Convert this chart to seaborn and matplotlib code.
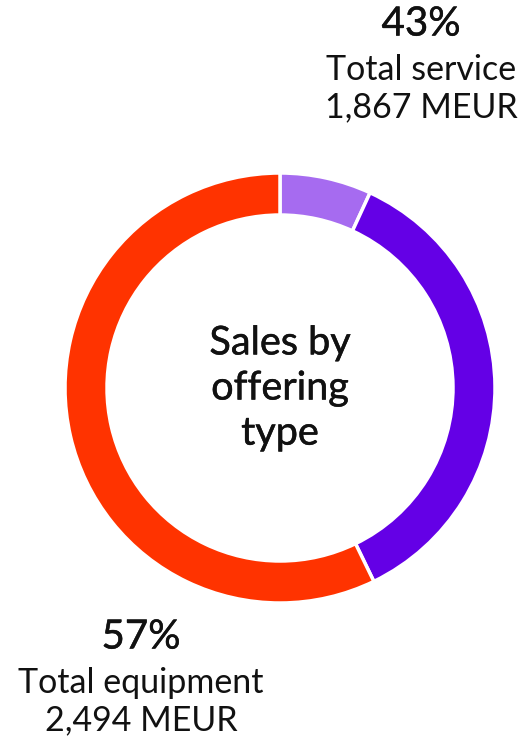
import matplotlib
matplotlib.use("Agg")
import matplotlib.pyplot as plt
import matplotlib.patheffects as pe
import seaborn as sns

# Ventas por tipo de oferta (MEUR)
segments = ["Service (light)", "Service (dark)", "Equipment"]
values = [300, 1567, 2494]
colors = ["#A66BF0", "#6400E6", "#FF3300"]

group_pct = ["43%", "57%"]
group_names = ["Total service", "Total equipment"]
group_meur = ["1,867 MEUR", "2,494 MEUR"]
center_label = "Sales by\noffering\ntype"

sns.set_theme(style="white")
plt.rcParams["font.family"] = ["Lato", "DejaVu Sans"]

W, H = 518, 738
fig = plt.figure(figsize=(W / 100, H / 100), dpi=100)
fig.patch.set_facecolor("white")

# un poco mas de grosor (peso "medium")
medium = [pe.withStroke(linewidth=0.35, foreground="#111111")]

# Donut: centro (280, 388) px, radio 215 px
cx, cy, r = 280, 388, 215
ax = fig.add_axes([(cx - r) / W, (H - cy - r) / H, 2 * r / W, 2 * r / H])
ax.pie(values, colors=colors, startangle=90, counterclock=False,
       radius=1.0,
       wedgeprops=dict(width=42 / r, edgecolor="white", linewidth=2.5))
ax.set_xlim(-1.0, 1.0)
ax.set_ylim(-1.0, 1.0)
ax.set_aspect("equal")
ax.axis("off")

ax.text(0, 0.0, center_label, ha="center", va="center", fontsize=28.5,
        color="#111111", linespacing=1.27, path_effects=medium)

# Etiquetas de los grupos
def label(x, y_top, pct, name, meur):
    fig.text(x / W, 1 - y_top / H, pct, ha="center", va="center",
             fontsize=29, color="#111111", path_effects=medium)
    fig.text(x / W, 1 - (y_top + 46) / H, name, ha="center", va="center",
             fontsize=24.5, color="#111111")
    fig.text(x / W, 1 - (y_top + 83) / H, meur, ha="center", va="center",
             fontsize=24.5, color="#111111")

label(421, 24, group_pct[0], group_names[0], group_meur[0])
label(141, 637, group_pct[1], group_names[1], group_meur[1])

fig.savefig("out.png", dpi=100)
